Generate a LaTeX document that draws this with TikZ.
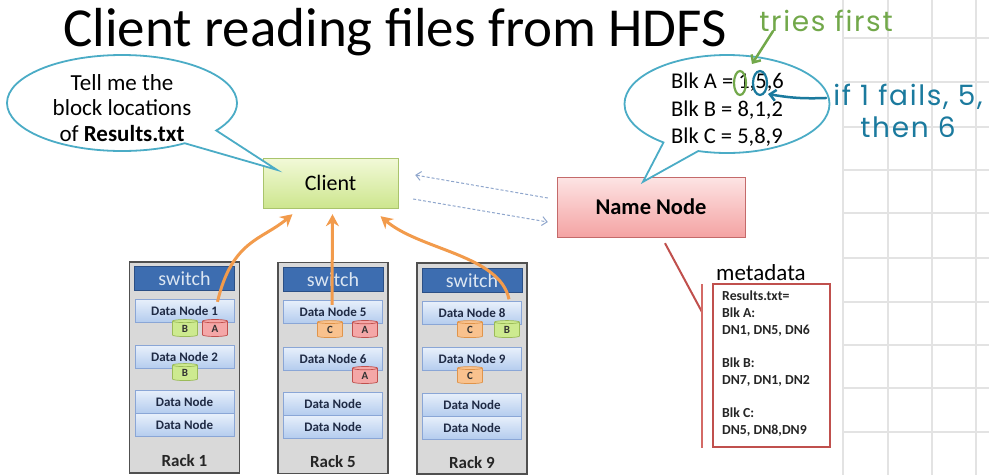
\documentclass[tikz,border=0pt]{standalone}
\usepackage{fontspec}
\setmainfont{Carlito}
\newfontfamily\handfont{Poppins}[LetterSpace=6]
\usetikzlibrary{shapes.geometric,shapes.callouts,arrows.meta,calc}
\definecolor{bubc}{HTML}{4BACC6}
\definecolor{clienttop}{HTML}{F2F9D8}
\definecolor{clientbot}{HTML}{CDE68E}
\definecolor{clientbd}{HTML}{A9C46C}
\definecolor{nntop}{HTML}{FDE4E4}
\definecolor{nnbot}{HTML}{F4A3A3}
\definecolor{nnbd}{HTML}{C46A6A}
\definecolor{dashc}{HTML}{8FA6CC}
\definecolor{orangec}{HTML}{F29B4C}
\definecolor{rackfill}{HTML}{D9D9D9}
\definecolor{rackbd}{HTML}{505050}
\definecolor{swfill}{HTML}{3D6DB0}
\definecolor{swbd}{HTML}{2B4F85}
\definecolor{swtext}{HTML}{DCE6F2}
\definecolor{dntop}{HTML}{E8F0FB}
\definecolor{dnbot}{HTML}{B4CCEE}
\definecolor{dnbd}{HTML}{8AA6D6}
\definecolor{dntext}{HTML}{1F2A44}
\definecolor{afill}{HTML}{F4A7A7}
\definecolor{abd}{HTML}{C0504D}
\definecolor{bfill}{HTML}{CDEA8F}
\definecolor{bbd}{HTML}{9BBB59}
\definecolor{cfill}{HTML}{F9C28E}
\definecolor{cbd}{HTML}{E0944A}
\definecolor{metared}{HTML}{C0504D}
\definecolor{metaline}{HTML}{D46A66}
\definecolor{gridc}{HTML}{E3E3E3}
\definecolor{handgreen}{HTML}{72A84A}
\definecolor{handblue}{HTML}{1B7A9E}
\tikzset{
  bubble/.style={ellipse callout, draw=bubc, line width=1.8pt, fill=white, callout pointer arc=22, inner sep=0pt},
  clientbox/.style={draw=clientbd, top color=clienttop, bottom color=clientbot, minimum width=135pt, minimum height=50pt, inner sep=0pt, font=\fontsize{22}{26}\selectfont},
  nnbox/.style={draw=nnbd, top color=nntop, bottom color=nnbot, minimum width=188pt, minimum height=60pt, inner sep=0pt, font=\fontsize{22.5}{26}\selectfont\bfseries},
  dasharrow/.style={draw=dashc, line width=1pt, dash pattern=on 3pt off 2pt, -{Straight Barb[length=5pt,width=9pt]}},
  orangearrow/.style={draw=orangec, line width=3pt, -{Stealth[length=12pt,width=13pt]}},
  racknode/.style={draw=rackbd, fill=rackfill, line width=1.2pt, minimum width=110pt, minimum height=211pt, inner sep=0pt},
  swnode/.style={draw=swbd, fill=swfill, minimum width=100pt, minimum height=24pt, inner sep=0pt, text=swtext, font=\fontsize{20}{22}\selectfont},
  dnode/.style={draw=dnbd, top color=dntop, bottom color=dnbot, minimum width=99pt, minimum height=23pt, inner sep=0pt, text=dntext, font=\fontsize{13}{15}\selectfont\bfseries},
  racklabel/.style={font=\fontsize{17}{19}\selectfont\bfseries, text=black!85},
  blk/.style={cylinder, shape border rotate=90, aspect=0.5, minimum width=25pt, minimum height=17pt, inner sep=0pt, line width=0.7pt, font=\fontsize{11}{12}\selectfont\bfseries, text=black!80},
  blkA/.style={blk, draw=abd, fill=afill},
  blkB/.style={blk, draw=bbd, fill=bfill},
  blkC/.style={blk, draw=cbd, fill=cfill},
  metabox/.style={draw=metared, line width=2pt, fill=white, minimum width=117pt, minimum height=163pt, inner sep=0pt},
  redline/.style={draw=metared, line width=2pt},
  gridline/.style={draw=gridc, line width=1.5pt},
  hand/.style={inner sep=0pt, font=\handfont\fontsize{28}{32}\selectfont},
}
\begin{document}
\begin{tikzpicture}[x=1pt,y=-1pt]
\useasboundingbox (0,0) rectangle (989,475);
% spreadsheet grid
\foreach \gx in {843,888,932,976} \draw[gridline] (\gx,0) -- (\gx,475);
\foreach \gy in {38,82,127,170,213,258,302,345,388,432} \draw[gridline] (843,\gy) -- (989,\gy);

% title
\node[anchor=base, inner sep=0pt, font=\fontsize{55}{64}\selectfont] (title) at (395,46) {Client reading files from HDFS};

% main nodes
\node[clientbox] (client) at (330.5,183) {Client};
\node[nnbox] (nn) at (651,207) {Name Node};

% bubbles
\node[bubble, minimum width=230pt, minimum height=96pt, callout absolute pointer={($(client.north west)+(14,12)$)}] (bubL) at (122,103) {};
\node[align=center, inner sep=0pt, font=\fontsize{23}{25.5}\selectfont] (asktext) at ($(bubL.center)+(0,5)$) {Tell me the\\block locations\\of \textbf{Results.txt}};
\node[bubble, minimum width=205pt, minimum height=98pt, callout absolute pointer={($(nn.north)+(-8,5)$)}] (bubR) at (727,104) {};
\node[anchor=west, align=left, inner sep=0pt, font=\fontsize{22.5}{27.5}\selectfont] (blktext) at (671,110) {Blk A = 1,5,6\\Blk B = 8,1,2\\Blk C = 5,8,9};

% dashed arrows
\draw[dasharrow] ($(nn.west)+(-9,-9)$) -- ($(client.east)+(17,-8)$);
\draw[dasharrow] ($(client.east)+(15,16)$) -- ($(nn.west)+(-9,15)$);

% racks
\node[racknode] (rack1) at (184.5,367.5) {};
\node[racknode] (rack5) at (333,368) {};
\node[racknode] (rack9) at (472,368.5) {};

\node[swnode] (sw1) at (184.5,278.5) {switch};
\node[swnode] (sw5) at (333,279.5) {switch};
\node[swnode] (sw9) at (472,280.5) {switch};

\node[dnode] (dn1) at (184.5,310.5) {Data Node 1};
\node[dnode] (dn2) at (184.5,357) {Data Node 2};
\node[dnode] (dn1x) at (184.5,401.5) {Data Node};
\node[dnode] (dn1y) at (184.5,425) {Data Node};

\node[dnode] (dn5) at (333,311.5) {Data Node 5};
\node[dnode] (dn6) at (333,358.5) {Data Node 6};
\node[dnode] (dn5x) at (333,403.5) {Data Node};
\node[dnode] (dn5y) at (333,426.5) {Data Node};

\node[dnode] (dn8) at (472,313) {Data Node 8};
\node[dnode] (dn9) at (472,359) {Data Node 9};
\node[dnode] (dn9x) at (472,404.5) {Data Node};
\node[dnode] (dn9y) at (472,427.5) {Data Node};

\node[racklabel] (lab1) at (184.5,461) {Rack 1};
\node[racklabel] (lab5) at (333,462) {Rack 5};
\node[racklabel] (lab9) at (472,463) {Rack 9};

% blocks
\node[blkB] (b1) at (185,329) {B};
\node[blkA] (a1) at (215,329) {A};
\node[blkB] (b2) at (185,373) {B};
\node[blkC] (c5) at (330,330) {C};
\node[blkA] (a5) at (365,330) {A};
\node[blkA] (a6) at (365,376) {A};
\node[blkC] (c8) at (470,330) {C};
\node[blkB] (b8) at (507,330) {B};
\node[blkC] (c9) at (470,376) {C};

% orange read arrows
\draw[orangearrow] ($(dn1.north)+(33,3)$) .. controls (232,240) and (262,240) .. ($(client.south)+(-38,6)$);
\draw[orangearrow] ($(dn5.north)+(-1,5)$) -- ($(client.south)+(2,6)$);
\draw[orangearrow] ($(dn8.north)+(37,-2)$) .. controls (500,255) and (420,250) .. ($(client.south)+(50,8)$);

% metadata
\node[metabox] (meta) at (771.5,365.5) {};
\node[anchor=base west, inner sep=0pt, font=\fontsize{23}{26}\selectfont] (metalabel) at (716,280) {metadata};
\node[anchor=north west, align=left, inner sep=0pt, font=\fontsize{13.8}{16.7}\selectfont\bfseries, text=black!85] (metatext) at (722,291) {Results.txt=\\Blk A:\\DN1, DN5, DN6\\[16.7pt]Blk B:\\DN7, DN1, DN2\\[16.7pt]Blk C:\\DN5, DN8,DN9};
\coordinate (metabend) at ($(meta.north west)+(-10,29)$);
\draw[redline] ($(nn.south)+(14,6)$) -- (metabend);
\draw[draw=metaline, line width=2pt] ($(meta.north west)+(-10,1)$) -- ($(meta.south west)+(-10,0)$);

% handwritten annotations
\node[hand, text=handgreen] (tries) at (826,21) {tries first};
\draw[draw=handgreen, line width=2.2pt] (740,83) ellipse [x radius=6, y radius=12];
\draw[draw=handgreen, line width=2.5pt, line cap=round, -{Straight Barb[length=6pt,width=11pt]}] ($(tries.south west)+(14,-1)$) -- (752,64);
\draw[draw=handblue, line width=2.2pt] (760,83) ellipse [x radius=7, y radius=12];
\node[hand, align=center, text=handblue] (fails) at (908,111) {if 1 fails, 5,\\then 6};
\draw[draw=handblue, line width=2.5pt, line cap=round, -{Straight Barb[length=6pt,width=11pt]}] ($(fails.north west)+(-7,14)$) to[bend left=6] (768,94);
\end{tikzpicture}
\end{document}
